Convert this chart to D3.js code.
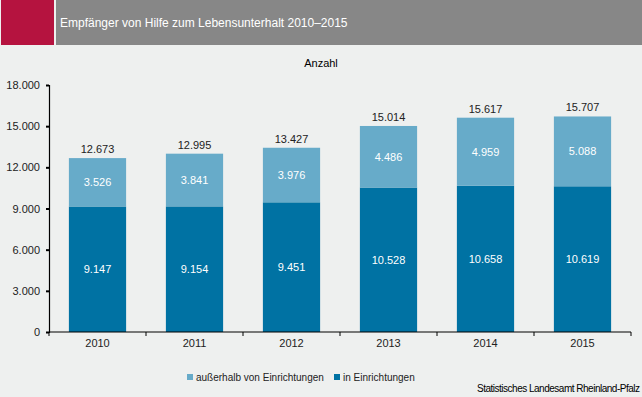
<!DOCTYPE html>
<html>
<head>
<meta charset="utf-8">
<script src="https://cdn.jsdelivr.net/npm/d3@7"></script>
<style>
  body { margin: 0; background: #eef0ef; }
  svg { display: block; font-family: "Liberation Sans", Arial, sans-serif; }
</style>
</head>
<body>
<div id="chart"></div>
<script>
const years = ['2010', '2011', '2012', '2013', '2014', '2015'];
const inside = [9147, 9154, 9451, 10528, 10658, 10619];
const outside = [3526, 3841, 3976, 4486, 4959, 5088];
const yTicks = [0, 3000, 6000, 9000, 12000, 15000, 18000];
const seriesNames = ['außerhalb von Einrichtungen', 'in Einrichtungen'];

const width = 642, height = 397;
const margin = {left: 49, right: 11, top: 85, bottom: 65};
const colors = {inside: '#0072a3', outside: '#67abc9'};

const fmt = d3.formatLocale({decimal: ',', thousands: '.', grouping: [3], currency: ['', '€']}).format(',d');

const svg = d3.select('#chart').append('svg')
  .attr('width', width)
  .attr('height', height);

svg.append('rect').attr('width', width).attr('height', height).attr('fill', '#eef0ef');

// header
svg.append('rect').attr('x', 1).attr('y', 0).attr('width', 53).attr('height', 45).attr('fill', '#b5133f');
svg.append('rect').attr('x', 56).attr('y', 0).attr('width', width - 56).attr('height', 45).attr('fill', '#878787');
svg.append('text')
  .attr('x', 60).attr('y', 27)
  .attr('fill', '#fff')
  .style('font-size', '12px')
  .text('Empfänger von Hilfe zum Lebensunterhalt 2010–2015');

svg.append('text')
  .attr('x', 321).attr('y', 67)
  .attr('text-anchor', 'middle')
  .style('font-size', '11px')
  .attr('fill', '#000')
  .text('Anzahl');

const x = d3.scaleBand()
  .domain(years)
  .range([margin.left, width - margin.right])
  .paddingInner(0.41)
  .paddingOuter(0.205);

const y = d3.scaleLinear()
  .domain([0, 18000])
  .range([height - margin.bottom, margin.top]);

const data = years.map((yr, i) => ({year: yr, inside: inside[i], outside: outside[i], total: inside[i] + outside[i]}));

// bars
const g = svg.append('g');
g.selectAll('rect.inside')
  .data(data)
  .enter()
  .append('rect')
    .attr('x', d => x(d.year))
    .attr('y', d => y(d.inside))
    .attr('width', x.bandwidth())
    .attr('height', d => y(0) - y(d.inside))
    .attr('fill', colors.inside);

g.selectAll('rect.outside')
  .data(data)
  .enter()
  .append('rect')
    .attr('x', d => x(d.year))
    .attr('y', d => y(d.total))
    .attr('width', x.bandwidth())
    .attr('height', d => y(d.inside) - y(d.total))
    .attr('fill', colors.outside);

// labels
const lbl = svg.append('g').style('font-size', '11px').attr('text-anchor', 'middle');
lbl.selectAll('text.in')
  .data(data).enter().append('text')
    .attr('x', d => x(d.year) + x.bandwidth() / 2)
    .attr('y', d => y(d.inside / 2) + 4)
    .attr('fill', '#fff')
    .text(d => fmt(d.inside));
lbl.selectAll('text.out')
  .data(data).enter().append('text')
    .attr('x', d => x(d.year) + x.bandwidth() / 2)
    .attr('y', d => y(d.inside + d.outside / 2) + 4)
    .attr('fill', '#fff')
    .text(d => fmt(d.outside));
lbl.selectAll('text.tot')
  .data(data).enter().append('text')
    .attr('x', d => x(d.year) + x.bandwidth() / 2)
    .attr('y', d => y(d.total) - 5)
    .attr('fill', '#222')
    .text(d => fmt(d.total));

// axes
const yAxis = svg.append('g')
  .attr('transform', `translate(${margin.left},0)`)
  .call(d3.axisLeft(y).tickValues(yTicks).tickSize(3).tickPadding(6).tickFormat(fmt));
const xAxis = svg.append('g')
  .attr('transform', `translate(0,${y(0)})`)
  .call(d3.axisBottom(x).tickSize(0).tickPadding(7));

[yAxis, xAxis].forEach(a => {
  a.select('.domain').attr('stroke', '#000').attr('stroke-width', 1.2);
  a.selectAll('text').style('font-size', '11px').attr('fill', '#222')
    .style('font-family', '"Liberation Sans", Arial, sans-serif');
});
yAxis.selectAll('line').attr('stroke-width', 2);
xAxis.select('.domain').attr('d', `M${margin.left},0H${width - margin.right}`);

// category separators on x axis
svg.append('g')
  .attr('transform', `translate(0,${y(0)})`)
  .selectAll('line')
  .data(d3.range(years.length + 1))
  .enter()
  .append('line')
    .attr('x1', i => x.range()[0] + i * x.step())
    .attr('x2', i => x.range()[0] + i * x.step())
    .attr('y1', 0).attr('y2', 4)
    .attr('stroke', '#000');

// legend
const legend = svg.append('g').style('font-size', '10px');
const legItems = [
  {name: seriesNames[0], color: colors.outside, x: 187},
  {name: seriesNames[1], color: colors.inside, x: 334}
];
legItems.forEach(it => {
  legend.append('rect').attr('x', it.x).attr('y', 374).attr('width', 6).attr('height', 6).attr('fill', it.color);
  legend.append('text').attr('x', it.x + 9).attr('y', 381).attr('fill', '#222').text(it.name);
});

svg.append('text')
  .attr('x', 640).attr('y', 392)
  .attr('text-anchor', 'end')
  .style('font-size', '10px')
  .attr('fill', '#000')
  .attr('textLength', 163)
  .text('Statistisches Landesamt Rheinland-Pfalz');
</script>
</body>
</html>
